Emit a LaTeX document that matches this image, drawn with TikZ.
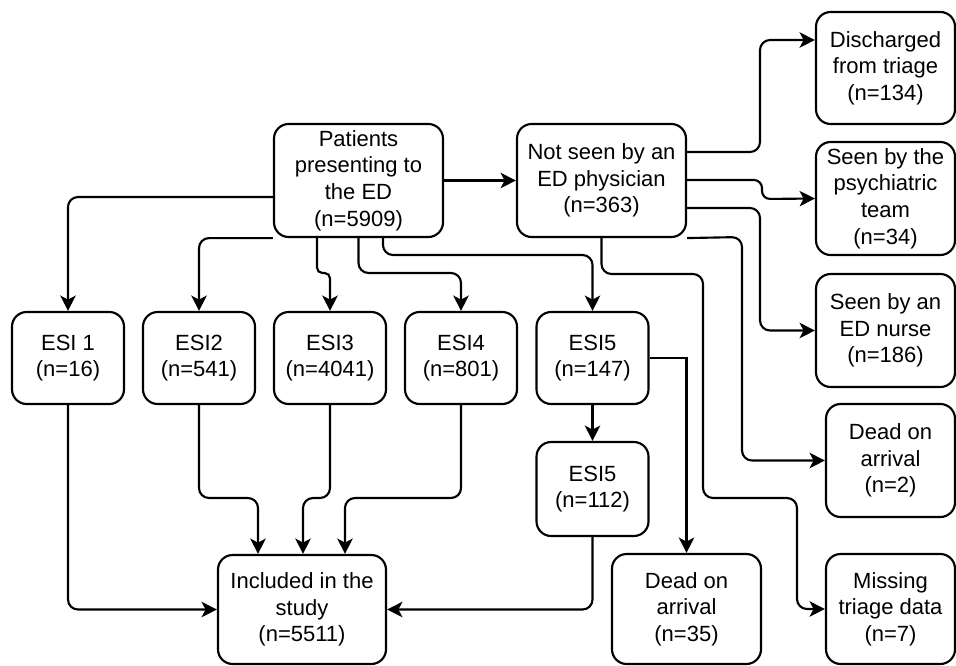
\documentclass[tikz,border=0pt]{standalone}
\usepackage{fontspec}
\setmainfont{Liberation Sans}
\usetikzlibrary{arrows.meta}
\begin{document}
\begin{tikzpicture}[x=0.75pt,y=-0.75pt,
  box/.style={draw,line width=1.6pt,rounded corners=11pt,align=center,inner sep=0pt,
    font=\fontsize{16.5}{20}\selectfont},
  conn/.style={line width=1.6pt,rounded corners=7.5pt,
    -{Stealth[length=11.5pt,width=11.5pt,inset=3pt]}},
  sharpconn/.style={conn,sharp corners}]
\useasboundingbox (0,0) rectangle (956,665);
% nodes
\node[box,minimum width=126.75pt,minimum height=84.75pt] (pat) at (358.5,180.5) {Patients\\presenting to\\the ED\\(n=5909)};
\node[box,minimum width=126.75pt,minimum height=84.75pt] (nsee) at (601.5,180.5) {Not seen by an\\ED physician\\(n=363)};
\node[box,minimum width=104.25pt,minimum height=84pt] (dis) at (885.5,68) {Discharged\\from triage\\(n=134)};
\node[box,minimum width=104.25pt,minimum height=84.75pt] (psy) at (885.5,198.5) {Seen by the\\psychiatric\\team\\(n=34)};
\node[box,minimum width=104.25pt,minimum height=84.75pt] (nur) at (885.5,330.5) {Seen by an\\ED nurse\\(n=186)};
\node[box,minimum width=96.75pt,minimum height=84.75pt] (doa2) at (890.5,460.5) {Dead on\\arrival\\(n=2)};
\node[box,minimum width=96.75pt,minimum height=82.5pt] (mis) at (890.5,609) {Missing\\triage data\\(n=7)};
\node[box,minimum width=84pt,minimum height=69pt] (esi1) at (68,358) {ESI 1\\(n=16)};
\node[box,minimum width=84pt,minimum height=69pt] (esi2) at (199,358) {ESI2\\(n=541)};
\node[box,minimum width=84pt,minimum height=69pt] (esi3) at (330,358) {ESI3\\(n=4041)};
\node[box,minimum width=84pt,minimum height=69pt] (esi4) at (461,358) {ESI4\\(n=801)};
\node[box,minimum width=84pt,minimum height=69pt] (esi5) at (592.5,358) {ESI5\\(n=147)};
\node[box,minimum width=84pt,minimum height=70.5pt] (esi5b) at (592.5,489) {ESI5\\(n=112)};
\node[box,minimum width=126pt,minimum height=81.75pt] (inc) at (302,609.5) {Included in the\\study\\(n=5511)};
\node[box,minimum width=111.75pt,minimum height=82.5pt] (doa35) at (686.5,609) {Dead on\\arrival\\(n=35)};
% connectors from Patients
\draw[conn] (pat.east) -- (nsee.west);
\draw[conn] (pat.west |- 0,197) -| (esi1.north);
\draw[conn] (pat.south west) -| (esi2.north);
\draw[conn,rounded corners=4pt] (pat.south -| 317,0) -- (317,273) -- (330,273) -- (esi3.north);
\draw[conn] (pat.south) -- (358.5,273) -| (esi4.north);
\draw[conn] (pat.south -| 383,0) -- (383,255) -| (esi5.north);
% connectors from Not seen
\draw[conn] (nsee.east |- 0,152) -- (760,152) -- (760,40) -- (dis.west |- 0,40);
\draw[conn,rounded corners=6pt] (nsee.east |- 0,180) -- (762,180) -- (762,199) -- (psy.west);
\draw[conn] (nsee.east |- 0,208) -- (760,208) |- (nur.west);
\draw[conn] (nsee.south east) -- (742,237) |- (doa2.west);
\draw[conn] (nsee.south) -- (601.5,274) -- (703,274) -- (703,498) -- (797,498) |- (mis.west);
% ESI5
\draw[conn] (esi5.south) -- (esi5b.north);
\draw[sharpconn] (esi5.east |- 0,358) -| (doa35.north);
% to Included
\draw[conn] (esi1.south) |- (inc.west);
\draw[conn] (esi2.south) -- (199,498) -- (258,498) -- (inc.north -| 258,0);
\draw[conn] (esi3.south) -- (330,498) -- (303,498) -- (inc.north -| 303,0);
\draw[conn] (esi4.south) -- (461,498) -- (345,498) -- (inc.north -| 345,0);
\draw[conn] (esi5b.south) |- (inc.east);
\end{tikzpicture}
\end{document}
